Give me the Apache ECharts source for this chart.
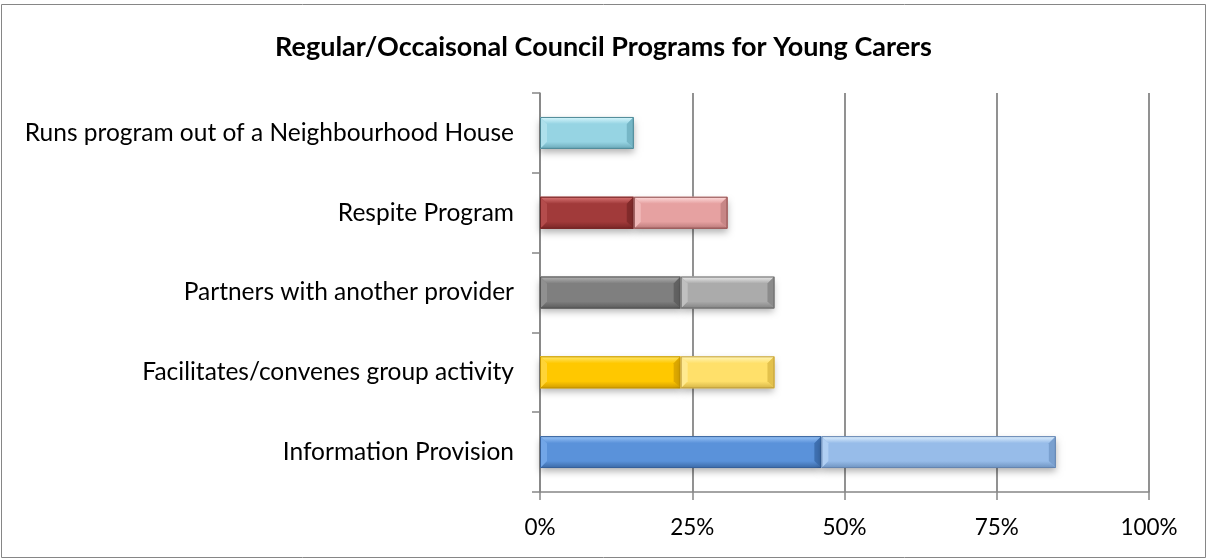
<!DOCTYPE html>
<html>
<head>
<meta charset="utf-8">
<script src="https://cdn.jsdelivr.net/npm/echarts@6/dist/echarts.min.js"></script>
<style>
  html, body { margin: 0; padding: 0; background: #fff; }
  #chart { width: 1207px; height: 559px; }
</style>
</head>
<body>
<div id="chart"></div>
<script>
// Programs (bottom to top on the category axis)
const categories = [
  'Information Provision',
  'Facilitates/convenes group activity',
  'Partners with another provider',
  'Respite Program',
  'Runs program out of a Neighbourhood House'
];
// Share of councils (%), regular and occasional programs
const regular    = [46.2, 23.1, 23.1, 15.4, 0];
const occasional = [38.5, 15.4, 15.4, 15.4, 15.4];
const xTicks = [0, 25, 50, 75, 100];

// Bevel shades per program: [regular, occasional]
const palette = [
  [
    { face: '#5a92da', top: '#9cc6f8', bot: '#3a68a4', left: '#72a6e8', right: '#3f72b4', edge: '#36609a' },
    { face: '#97bce9', top: '#e2f2ff', bot: '#6d92bf', left: '#b0cff3', right: '#7aa0cf', edge: '#6585b0' }
  ],
  [
    { face: '#ffc800', top: '#ffe870', bot: '#d09c00', left: '#ffd436', right: '#dfaa00', edge: '#c49500' },
    { face: '#ffe06a', top: '#fff6bb', bot: '#d4b446', left: '#ffea90', right: '#e3c14c', edge: '#c2a040' }
  ],
  [
    { face: '#7f7f7f', top: '#b4b4b4', bot: '#5a5a5a', left: '#909090', right: '#636363', edge: '#555555' },
    { face: '#ababab', top: '#ececec', bot: '#828282', left: '#c0c0c0', right: '#8b8b8b', edge: '#6c6c6c' }
  ],
  [
    { face: '#a13a3a', top: '#dc7878', bot: '#792626', left: '#b44c4c', right: '#832b2b', edge: '#722424' },
    { face: '#e6a1a1', top: '#ffdede', bot: '#b87878', left: '#f0b8b8', right: '#c78686', edge: '#8c4c4c' }
  ],
  [
    { face: '#9ad6e4', top: '#d2f4fb', bot: '#70aebc', left: '#b0e1ec', right: '#7abacb', edge: '#4f8896' },
    { face: '#96d4e3', top: '#daf8fe', bot: '#6aa8b8', left: '#aee0ec', right: '#76b6c6', edge: '#4d8795' }
  ]
];

// Stacked segments: [start, end, categoryIndex]
const regSegs = regular.map((v, i) => [0, v, i]);
const occSegs = occasional.map((v, i) => [regular[i], regular[i] + occasional[i], i]);

function bevelBar(idx) {
  return function (params, api) {
    const start = api.value(0), end = api.value(1), cat = api.value(2);
    if (end - start <= 0) return null;
    const p0 = api.coord([start, cat]);
    const p1 = api.coord([end, cat]);
    const band = api.size([0, 1])[1];
    const h = band * 0.4;
    const x = p0[0], y = p0[1] - h / 2, w = p1[0] - p0[0];
    const b = Math.min(7, w / 2);
    const c = palette[cat][idx];
    return {
      type: 'group',
      children: [
        { type: 'rect', shape: { x, y, width: w, height: h },
          style: { fill: c.face, shadowColor: 'rgba(0,0,0,0.30)', shadowBlur: 7, shadowOffsetY: 4 } },
        { type: 'polygon', shape: { points: [[x, y], [x + w, y], [x + w - b, y + b], [x + b, y + b]] },
          style: { fill: new echarts.graphic.LinearGradient(0, 0, 0, 1, [
            { offset: 0, color: c.top }, { offset: 1, color: c.face }]) } },
        { type: 'polygon', shape: { points: [[x, y + h], [x + w, y + h], [x + w - b, y + h - b], [x + b, y + h - b]] },
          style: { fill: new echarts.graphic.LinearGradient(0, 0, 0, 1, [
            { offset: 0, color: c.face }, { offset: 1, color: c.bot }]) } },
        { type: 'polygon', shape: { points: [[x, y], [x + b, y + b], [x + b, y + h - b], [x, y + h]] },
          style: { fill: c.left } },
        { type: 'polygon', shape: { points: [[x + w, y], [x + w - b, y + b], [x + w - b, y + h - b], [x + w, y + h]] },
          style: { fill: c.right } },
        { type: 'rect', shape: { x: x + 0.5, y: y + 0.5, width: w - 1, height: h - 1 },
          style: { fill: 'none', stroke: c.edge, lineWidth: 1 } }
      ]
    };
  };
}

const chart = echarts.init(document.getElementById('chart'), null, { renderer: 'canvas' });
chart.setOption({
  animation: false,
  backgroundColor: '#ffffff',
  textStyle: { fontFamily: 'Lato, "Open Sans", sans-serif' },
  title: {
    text: 'Regular/Occaisonal Council Programs for Young Carers',
    left: 'center',
    top: 29,
    textStyle: { fontFamily: 'Lato, sans-serif', fontSize: 27, fontWeight: 'bold', color: '#000' }
  },
  graphic: [{
    type: 'rect',
    shape: { x: 1.5, y: 4.5, width: 1204, height: 553 },
    style: { fill: 'none', stroke: '#868686', lineWidth: 1 },
    silent: true,
    z: -1
  }],
  grid: { left: 540, right: 58, top: 93, bottom: 67, containLabel: false },
  xAxis: {
    type: 'value',
    min: 0,
    max: 100,
    interval: 25,
    axisLine: { show: true, lineStyle: { color: '#868686', width: 1.5 } },
    axisTick: { show: true, length: 8, lineStyle: { color: '#868686', width: 1.5 } },
    splitLine: { show: true, lineStyle: { color: '#868686', width: 1.8 } },
    axisLabel: {
      margin: 24,
      fontSize: 22.5,
      color: '#000',
      fontFamily: 'Lato, sans-serif',
      formatter: v => (xTicks.includes(v) ? v + '%' : '')
    }
  },
  yAxis: {
    type: 'category',
    data: categories,
    axisLine: { show: true, lineStyle: { color: '#868686', width: 1.5 } },
    axisTick: { show: true, length: 8, lineStyle: { color: '#868686', width: 1.5 } },
    axisLabel: { margin: 26, fontSize: 24.5, color: '#000', fontFamily: 'Lato, sans-serif' }
  },
  series: [
    { name: 'Regular', type: 'custom', renderItem: bevelBar(0), encode: { x: [0, 1], y: 2 }, data: regSegs, z: 3 },
    { name: 'Occasional', type: 'custom', renderItem: bevelBar(1), encode: { x: [0, 1], y: 2 }, data: occSegs, z: 3 }
  ]
});
</script>
</body>
</html>
